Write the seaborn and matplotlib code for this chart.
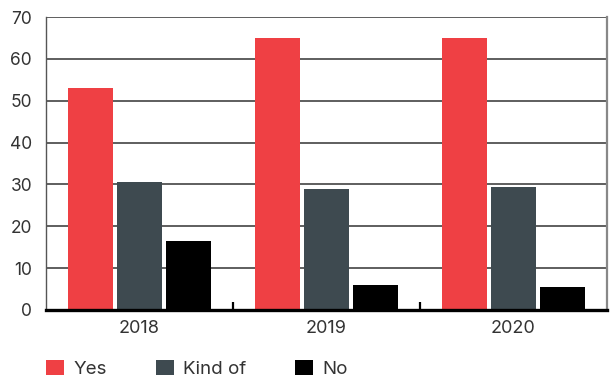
import matplotlib
matplotlib.use("Agg")
import matplotlib.pyplot as plt
import seaborn as sns
import pandas as pd
from matplotlib.patches import Patch

years = ["2018", "2019", "2020"]
responses = ["Yes", "Kind of", "No"]
yes_vals = [53.0, 65.0, 65.0]
kindof_vals = [30.5, 28.9, 29.3]
no_vals = [16.5, 6.0, 5.5]
palette = {"Yes": "#EF4044", "Kind of": "#3E4A50", "No": "#000000"}

rows = []
for i, y in enumerate(years):
    for r, vals in zip(responses, [yes_vals, kindof_vals, no_vals]):
        rows.append({"year": y, "response": r, "value": vals[i]})
df = pd.DataFrame(rows)

sns.set_theme(style="white")
plt.rcParams["font.family"] = ["Inter", "DejaVu Sans"]

fig = plt.figure(figsize=(6.1, 3.78), dpi=100)
ax = fig.add_axes([46 / 610, 1 - 310 / 378, 561 / 610, 293 / 378])

sns.barplot(data=df, x="year", y="value", hue="response", hue_order=responses,
            palette=palette, width=0.786, gap=0.1, saturation=1, ax=ax,
            legend=False, linewidth=0, edgecolor="none", zorder=3)

ax.set_ylim(0, 70)
ax.set_xlim(-0.5, 2.5)
ax.set_yticks(range(0, 71, 10))
ax.set_xlabel("")
ax.set_ylabel("")

# horizontal gridlines
ax.yaxis.grid(True, color="#333333", linewidth=1.1, zorder=0)
ax.set_axisbelow(True)

# spines
ax.spines["top"].set_visible(False)
ax.spines["left"].set_color("#555555")
ax.spines["left"].set_linewidth(1.0)
ax.spines["right"].set_color("#888888")
ax.spines["right"].set_linewidth(1.6)
ax.spines["bottom"].set_color("#000000")
ax.spines["bottom"].set_linewidth(2.4)
ax.spines["bottom"].set_zorder(5)

ax.tick_params(axis="y", length=0, pad=10, labelsize=12.5, labelcolor="#333333")
ax.tick_params(axis="x", length=0, pad=7, labelsize=13, labelcolor="#333333")

# small boundary ticks between year groups
ax.set_xticks([0.5, 1.5], minor=True)
ax.tick_params(axis="x", which="minor", bottom=True, direction="in", length=6,
               width=1.6, color="#000000")

handles = [Patch(facecolor=palette[r], edgecolor="none") for r in responses]
fig.legend(handles, responses, loc="center left",
           bbox_to_anchor=(46 / 610, 1 - 369 / 378),
           ncol=3, frameon=False, fontsize=13.5, borderpad=0, borderaxespad=0,
           handlelength=0.96, handleheight=0.8, handletextpad=0.5,
           columnspacing=2.6, labelcolor="#333333")

fig.savefig("out.png", dpi=100)
